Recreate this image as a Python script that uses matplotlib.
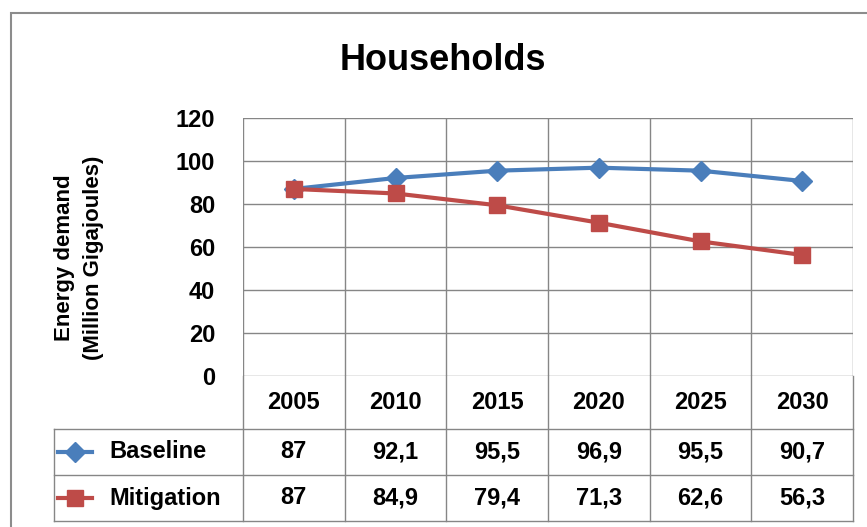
import matplotlib
matplotlib.use("Agg")
import matplotlib.pyplot as plt
from matplotlib.patches import Rectangle
from matplotlib.lines import Line2D
import matplotlib.transforms as mtransforms

years = ["2005", "2010", "2015", "2020", "2025", "2030"]
baseline = [87, 92.1, 95.5, 96.9, 95.5, 90.7]
mitigation = [87, 84.9, 79.4, 71.3, 62.6, 56.3]
series_names = ["Baseline", "Mitigation"]
baseline_labels = ["87", "92,1", "95,5", "96,9", "95,5", "90,7"]
mitigation_labels = ["87", "84,9", "79,4", "71,3", "62,6", "56,3"]
yticks = [0, 20, 40, 60, 80, 100, 120]

plt.rcParams['font.family'] = ['Liberation Sans', 'DejaVu Sans']
plt.rcParams['font.weight'] = 'bold'

W, H = 867, 527
fig = plt.figure(figsize=(W/100, H/100), dpi=100)

# outer chart border
fig.patches.append(Rectangle((11/W, -0.05), 1.1, (H-13)/H + 0.05, transform=fig.transFigure,
                             fill=False, edgecolor='#8c8c8c', linewidth=1.5, figure=fig))

left, right, top, bottom = 243, 853, 118, 376
ax = fig.add_axes([left/W, (H-bottom)/H, (right-left)/W, (bottom-top)/H])

FS = 17
grid_c = '#868686'
blue = '#4a7ebb'
red = '#be4b48'
x = list(range(len(years)))
ax.plot(x, baseline, color=blue, lw=3, marker='D', ms=10, zorder=3, clip_on=False)
ax.plot(x, mitigation, color=red, lw=3, marker='s', ms=12, zorder=3, clip_on=False)

ax.set_xlim(-0.5, len(years)-0.5)
ax.set_ylim(0, 120)
ax.set_yticks(yticks)
ax.set_yticklabels([str(v) for v in yticks], fontsize=FS, fontweight='bold')
ax.set_xticks([])
ax.tick_params(axis='y', length=0, pad=20)
for v in yticks:
    ax.axhline(v, color=grid_c, lw=1, zorder=1)
for i in range(len(years)+1):
    ax.axvline(i-0.5, color=grid_c, lw=1, zorder=1)
for s in ax.spines.values():
    s.set_visible(False)

fig.text(79/W, (H-258)/H, "Energy demand\n(Million Gigajoules)", rotation=90, ha='center', va='center',
         multialignment='center', fontsize=16, fontweight='bold', linespacing=1.45)

fig.text(443/W, (H-60)/H, "Households", ha='center', va='center', fontsize=26, fontweight='bold')

# data table below
tr = mtransforms.blended_transform_factory(ax.transData, ax.transAxes)
px = 258.0
r1 = -(429-376)/px
r2 = -(475-376)/px
r3 = -(521-376)/px
xleft = -0.5 - (243-53)/102.0
def L(xs, ys):
    ax.add_line(Line2D(xs, ys, transform=tr, color=grid_c, lw=1, clip_on=False))
for i in range(len(years)+1):
    L([i-0.5, i-0.5], [0, r3])
L([xleft, len(years)-0.5], [r1, r1])
L([xleft, len(years)-0.5], [r2, r2])
L([xleft, len(years)-0.5], [r3, r3])
L([xleft, xleft], [r1, r3])

for i, yr in enumerate(years):
    ax.text(i, r1/2, yr, transform=tr, ha='center', va='center', fontsize=FS, fontweight='bold')
rows = [(baseline_labels, (r1+r2)/2, blue, 'D', 10), (mitigation_labels, (r2+r3)/2, red, 's', 12)]
for (labs, yc, col, mk, ms), name in zip(rows, series_names):
    for i, t in enumerate(labs):
        ax.text(i, yc, t, transform=tr, ha='center', va='center', fontsize=FS, fontweight='bold')
    lx0 = -0.5 - (243-57)/102.0
    lx1 = -0.5 - (243-92)/102.0
    ax.add_line(Line2D([lx0, lx1], [yc, yc], transform=tr, color=col, lw=3, clip_on=False))
    ax.add_line(Line2D([(lx0+lx1)/2], [yc], transform=tr, color=col, marker=mk, ms=ms, clip_on=False))
    ax.text(-0.5 - (243-109)/102.0, yc, name, transform=tr, ha='left', va='center', fontsize=FS,
            fontweight='bold')

fig.savefig("out.png", dpi=100)
